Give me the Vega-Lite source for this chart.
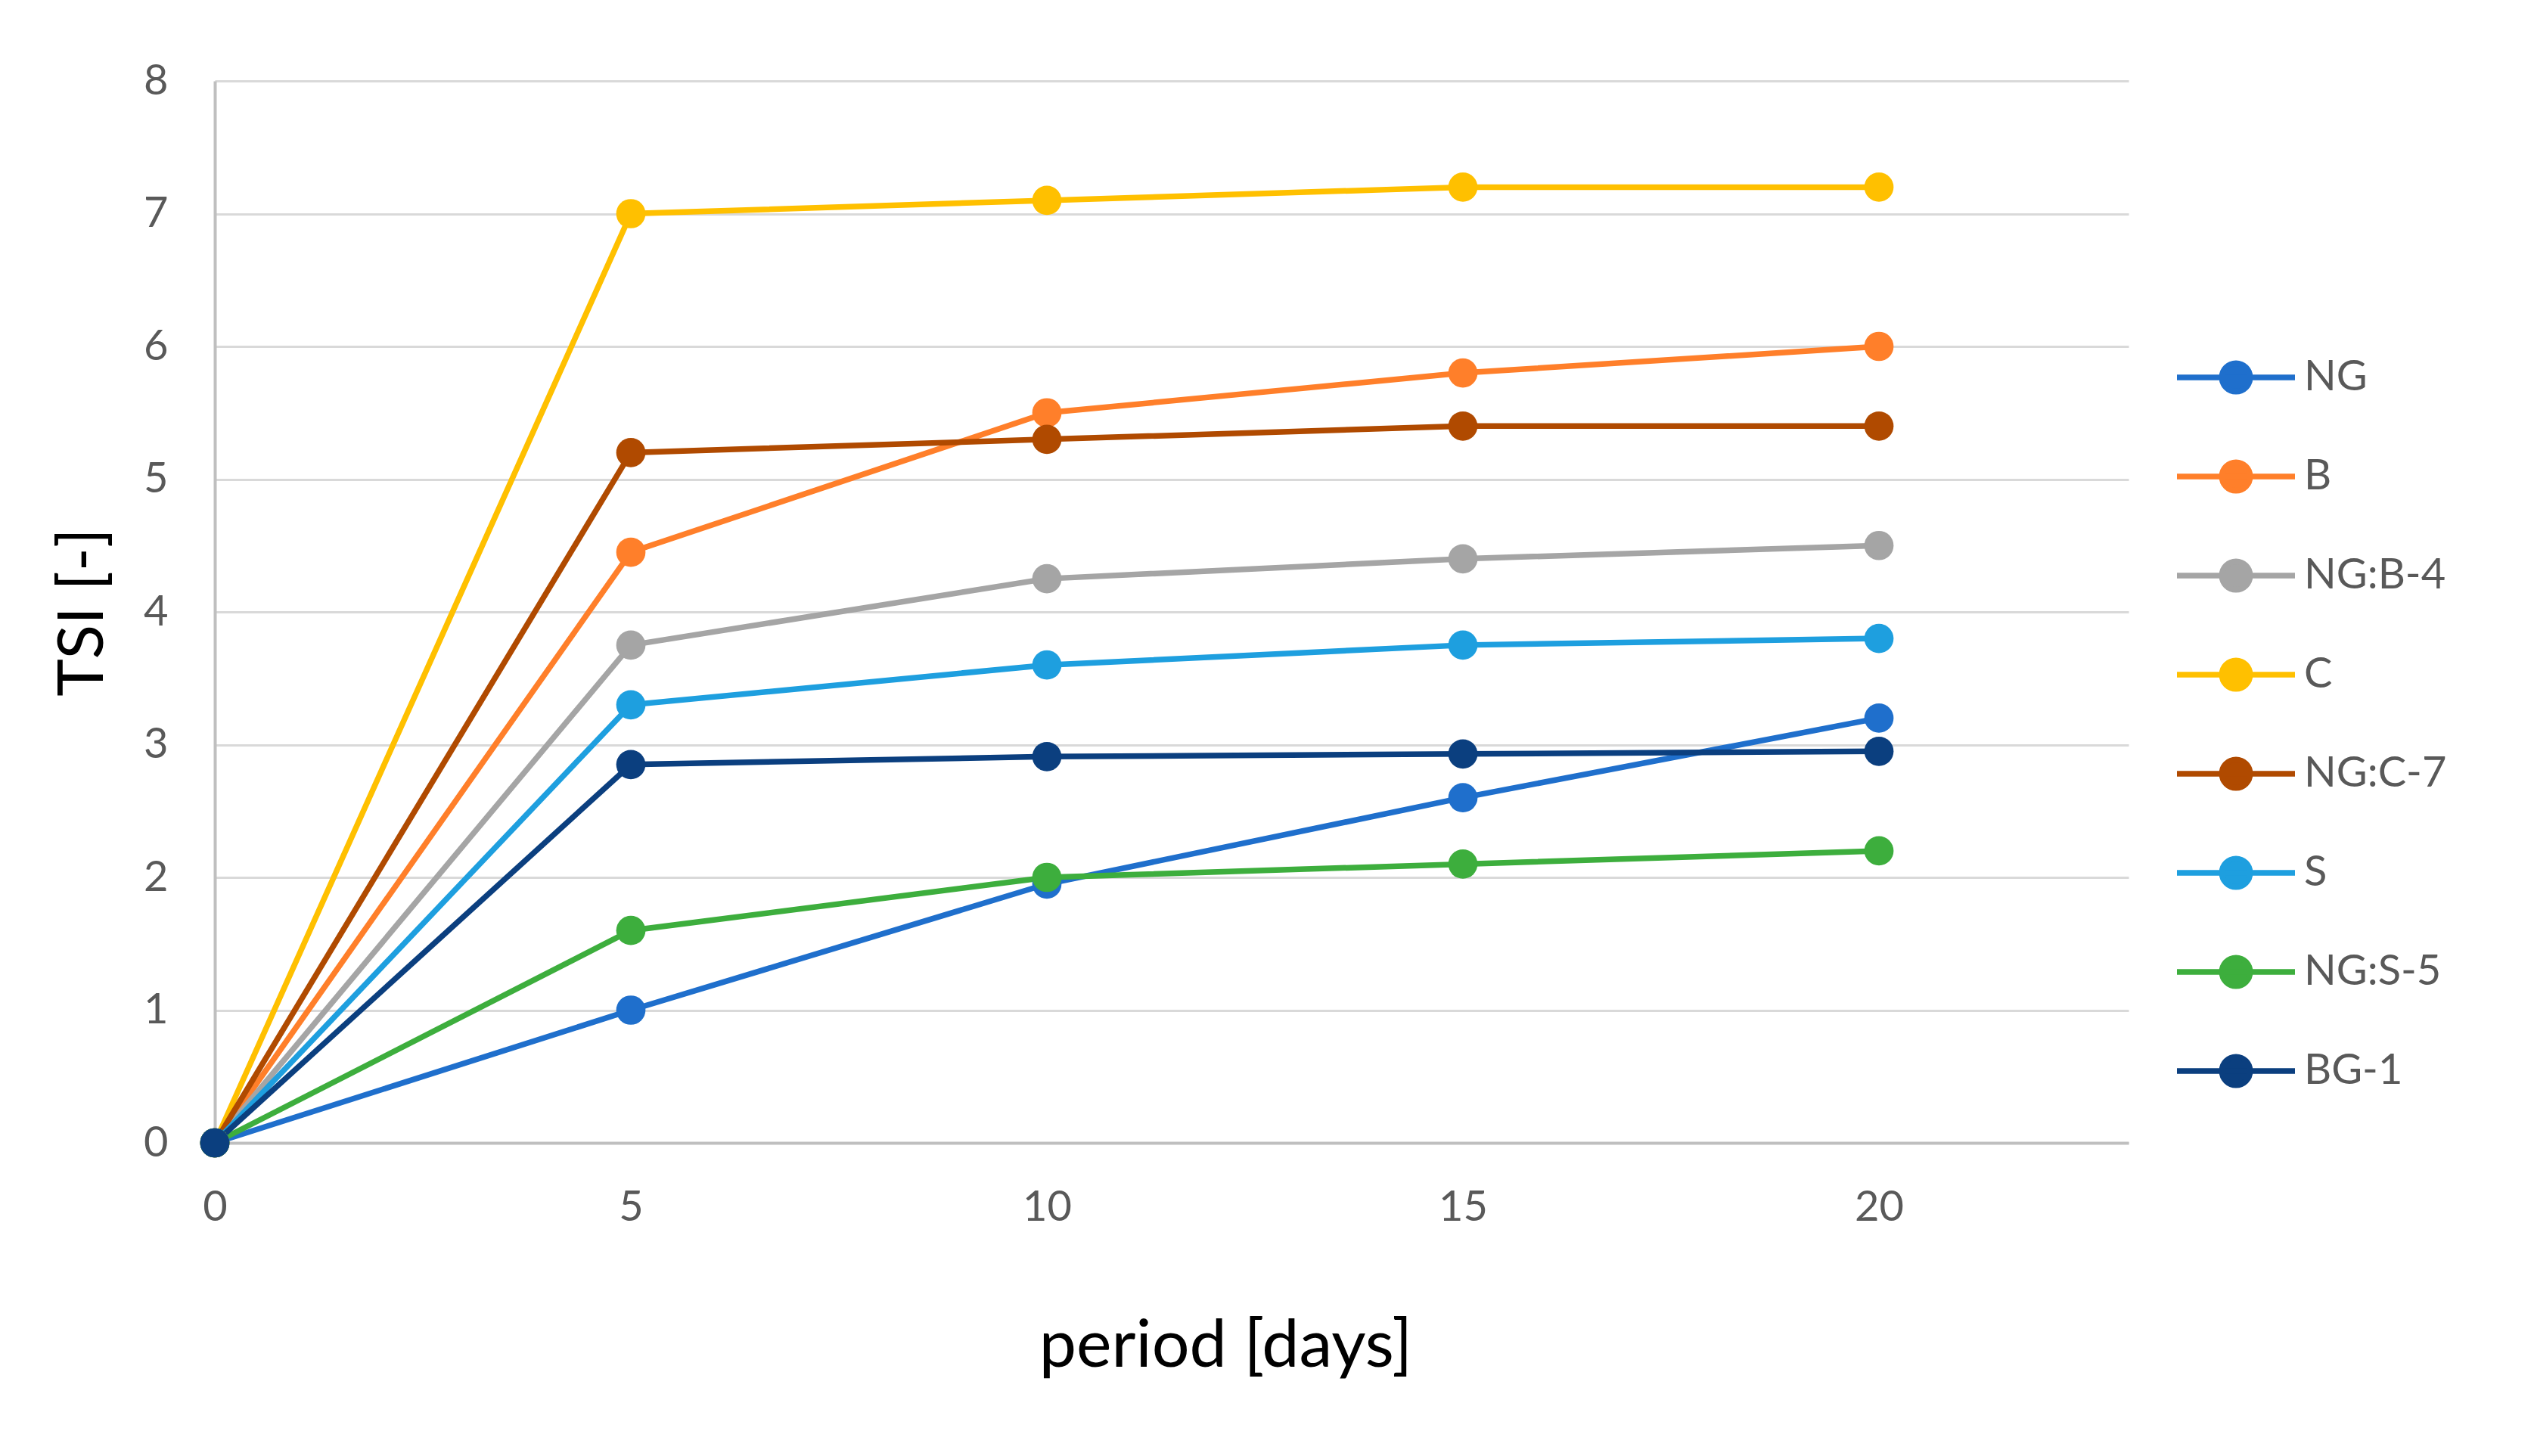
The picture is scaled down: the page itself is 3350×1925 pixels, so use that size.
{
  "$schema": "https://vega.github.io/schema/vega-lite/v6.json",
  "width": 2530,
  "height": 1404,
  "autosize": {"type": "none"},
  "padding": {"left": 284, "top": 107, "right": 536, "bottom": 414},
  "background": "white",
  "config": {
    "font": "Lato",
    "view": {"stroke": null},
    "axis": {"labelFont": "Lato", "titleFont": "Lato"}
  },
  "data": {
    "values": [
      {"series": "NG", "period": 0, "tsi": 0},
      {"series": "NG", "period": 5, "tsi": 1.0},
      {"series": "NG", "period": 10, "tsi": 1.95},
      {"series": "NG", "period": 15, "tsi": 2.6},
      {"series": "NG", "period": 20, "tsi": 3.2},
      {"series": "B", "period": 0, "tsi": 0},
      {"series": "B", "period": 5, "tsi": 4.45},
      {"series": "B", "period": 10, "tsi": 5.5},
      {"series": "B", "period": 15, "tsi": 5.8},
      {"series": "B", "period": 20, "tsi": 6.0},
      {"series": "NG:B-4", "period": 0, "tsi": 0},
      {"series": "NG:B-4", "period": 5, "tsi": 3.75},
      {"series": "NG:B-4", "period": 10, "tsi": 4.25},
      {"series": "NG:B-4", "period": 15, "tsi": 4.4},
      {"series": "NG:B-4", "period": 20, "tsi": 4.5},
      {"series": "C", "period": 0, "tsi": 0},
      {"series": "C", "period": 5, "tsi": 7.0},
      {"series": "C", "period": 10, "tsi": 7.1},
      {"series": "C", "period": 15, "tsi": 7.2},
      {"series": "C", "period": 20, "tsi": 7.2},
      {"series": "NG:C-7", "period": 0, "tsi": 0},
      {"series": "NG:C-7", "period": 5, "tsi": 5.2},
      {"series": "NG:C-7", "period": 10, "tsi": 5.3},
      {"series": "NG:C-7", "period": 15, "tsi": 5.4},
      {"series": "NG:C-7", "period": 20, "tsi": 5.4},
      {"series": "S", "period": 0, "tsi": 0},
      {"series": "S", "period": 5, "tsi": 3.3},
      {"series": "S", "period": 10, "tsi": 3.6},
      {"series": "S", "period": 15, "tsi": 3.75},
      {"series": "S", "period": 20, "tsi": 3.8},
      {"series": "NG:S-5", "period": 0, "tsi": 0},
      {"series": "NG:S-5", "period": 5, "tsi": 1.6},
      {"series": "NG:S-5", "period": 10, "tsi": 2.0},
      {"series": "NG:S-5", "period": 15, "tsi": 2.1},
      {"series": "NG:S-5", "period": 20, "tsi": 2.2},
      {"series": "BG-1", "period": 0, "tsi": 0},
      {"series": "BG-1", "period": 5, "tsi": 2.85},
      {"series": "BG-1", "period": 10, "tsi": 2.91},
      {"series": "BG-1", "period": 15, "tsi": 2.93},
      {"series": "BG-1", "period": 20, "tsi": 2.95}
    ]
  },
  "encoding": {
    "x": {
      "field": "period", "type": "quantitative",
      "scale": {"domain": [0, 23], "nice": false, "zero": true},
      "axis": {
        "title": "period [days]",
        "values": [0, 5, 10, 15, 20],
        "grid": false,
        "ticks": false,
        "domain": true,
        "domainColor": "#BFBFBF",
        "domainWidth": 4,
        "labelFontSize": 56,
        "labelColor": "#595959",
        "labelPadding": 58,
        "labelFlush": false,
        "titleFontSize": 88,
        "titleFontWeight": "normal",
        "titleColor": "#000000",
        "titlePadding": 112,
        "titleX": 1336,
        "titleAlign": "center"
      }
    },
    "y": {
      "field": "tsi", "type": "quantitative",
      "scale": {"domain": [0, 8], "nice": false},
      "axis": {
        "title": "TSI [-]",
        "values": [0, 1, 2, 3, 4, 5, 6, 7, 8],
        "grid": true,
        "gridColor": "#D9D9D9",
        "gridWidth": 3,
        "ticks": false,
        "domain": true,
        "domainColor": "#BFBFBF",
        "domainWidth": 4,
        "labelFontSize": 56,
        "labelColor": "#595959",
        "labelPadding": 62,
        "titleFontSize": 84,
        "titleFontWeight": "normal",
        "titleColor": "#000000",
        "titlePadding": 36
      }
    },
    "color": {
      "field": "series", "type": "nominal",
      "scale": {
        "domain": ["NG", "B", "NG:B-4", "C", "NG:C-7", "S", "NG:S-5", "BG-1"],
        "range": ["#1F6FCC", "#FF7F2A", "#A5A5A5", "#FFC000", "#B04A00", "#1E9FDF", "#3DAE3D", "#0B3F7F"]
      },
      "legend": {
        "title": null,
        "orient": "none",
        "legendX": 2590,
        "legendY": 310,
        "padding": 0,
        "symbolType": "M-1,0L1,0M-0.24,0A0.24,0.24,0,1,1,0.24,0A0.24,0.24,0,1,1,-0.24,0Z",
        "symbolSize": 24336,
        "symbolStrokeWidth": 7.5,
        "symbolOpacity": 1,
        "labelFontSize": 56,
        "labelColor": "#595959",
        "labelFont": "Lato",
        "labelOffset": 8,
        "labelLimit": 400,
        "rowPadding": 15,
        "encode": {
          "symbols": {
            "update": {
              "fill": {"scale": "color", "field": "value"},
              "stroke": {"scale": "color", "field": "value"}
            }
          }
        }
      }
    }
  },
  "layer": [
    {
      "mark": {"type": "line", "strokeWidth": 7.5}
    },
    {
      "mark": {"type": "point", "filled": true, "shape": "circle", "size": 1500, "opacity": 1}
    }
  ]
}
